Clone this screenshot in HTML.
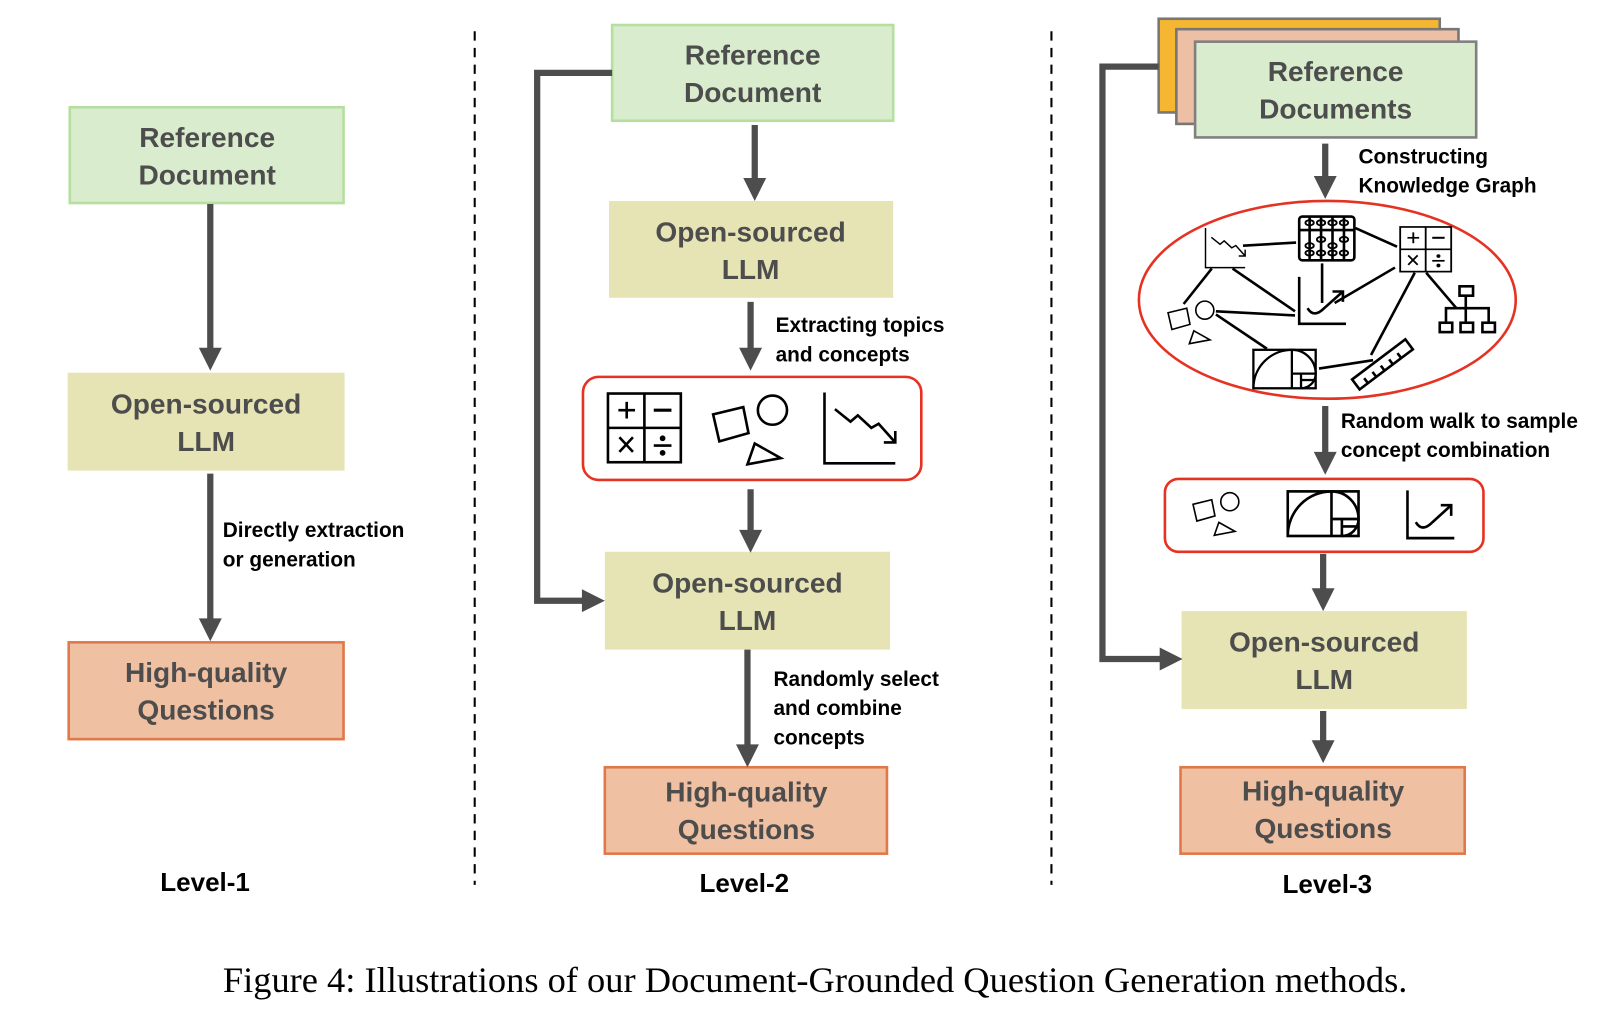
<!DOCTYPE html>
<html><head><meta charset="utf-8"><style>html,body{margin:0;padding:0;background:#fff}svg{display:block}</style></head>
<body>
<svg width="1624" height="1014" viewBox="0 0 1560 974" xmlns="http://www.w3.org/2000/svg" font-family="Liberation Sans, sans-serif">
<defs>
<g id="calc" fill="none" stroke="#000" stroke-width="2.5">
<rect x="0" y="0" width="70" height="66"/><line x1="35" y1="0" x2="35" y2="66"/><line x1="0" y1="33" x2="70" y2="33"/>
<line x1="10" y1="16" x2="26" y2="16"/><line x1="18" y1="8" x2="18" y2="24"/><line x1="44" y1="16" x2="61" y2="16" stroke-width="3"/>
<line x1="11" y1="42" x2="24" y2="56"/><line x1="24" y1="42" x2="11" y2="56"/><line x1="44" y1="50" x2="61" y2="50"/>
<circle cx="52.5" cy="43" r="1.5" fill="#000"/><circle cx="52.5" cy="57" r="1.5" fill="#000"/></g>
<g id="shapes" fill="none" stroke="#000" stroke-width="2.5">
<polygon points="0,20 29,13 34,38 6,46"/><circle cx="57" cy="16" r="14"/><polygon points="40,48 65,62 33,68"/></g>
<g id="down" fill="none" stroke="#000" stroke-width="2.5">
<polyline points="0,0 0,68 68,68"/><polyline points="10,16 25,28 32,22 45,34 52,30 68,48"/><polyline points="57,48 68,48 68,37"/></g>
<g id="curve" fill="none" stroke="#000" stroke-width="2.5">
<polyline points="0,0 0,45 45,45"/><path d="M8,30 Q14,40 24,30 L42,14"/><polyline points="32,14 42,14 42,24"/></g>
<g id="fib" fill="none" stroke="#000" stroke-width="2.5">
<rect x="0" y="0" width="68" height="42"/><line x1="42" y1="0" x2="42" y2="42"/><line x1="42" y1="26" x2="68" y2="26"/><line x1="52" y1="26" x2="52" y2="42"/><line x1="52" y1="33" x2="68" y2="33"/>
<path d="M0,42 A42,42 0 0 1 42,0 A26,26 0 0 1 68,26 A16,16 0 0 1 52,42"/></g>
</defs>

<line x1="456" y1="30" x2="456" y2="850" stroke="#000" stroke-width="2" stroke-dasharray="9,7"/>
<line x1="1010" y1="30" x2="1010" y2="850" stroke="#000" stroke-width="2" stroke-dasharray="9,7"/>

<g font-weight="bold" font-size="27" fill="#4d4d4d" text-anchor="middle">
<rect x="67" y="103" width="263" height="92" fill="#d9ecce" stroke="#b5df9e" stroke-width="2.5"/>
<text x="199" y="141">Reference</text><text x="199" y="177">Document</text>
<rect x="65" y="358" width="266" height="94" fill="#e6e4b4"/>
<text x="198" y="397">Open-sourced</text><text x="198" y="433">LLM</text>
<rect x="66" y="617" width="264" height="93" fill="#efc0a2" stroke="#e0784a" stroke-width="2.5"/>
<text x="198" y="655">High-quality</text><text x="198" y="691">Questions</text>

<rect x="588" y="24" width="270" height="92" fill="#d9ecce" stroke="#b5df9e" stroke-width="2.5"/>
<text x="723" y="62">Reference</text><text x="723" y="98">Document</text>
<rect x="585" y="193" width="273" height="93" fill="#e6e4b4"/>
<text x="721" y="232">Open-sourced</text><text x="721" y="268">LLM</text>
<rect x="581" y="530" width="274" height="94" fill="#e6e4b4"/>
<text x="718" y="569">Open-sourced</text><text x="718" y="605">LLM</text>
<rect x="581" y="737" width="271" height="83" fill="#efc0a2" stroke="#e0784a" stroke-width="2.5"/>
<text x="717" y="770">High-quality</text><text x="717" y="806">Questions</text>

<rect x="1113" y="18" width="270" height="90" fill="#f5b731" stroke="#777" stroke-width="2.5"/>
<rect x="1130" y="28" width="271" height="91" fill="#edbfa4" stroke="#777" stroke-width="2.5"/>
<rect x="1148" y="40" width="270" height="92" fill="#d9ecce" stroke="#808080" stroke-width="2.5"/>
<text x="1283" y="78">Reference</text><text x="1283" y="114">Documents</text>
<rect x="1135" y="587" width="274" height="94" fill="#e6e4b4"/>
<text x="1272" y="626">Open-sourced</text><text x="1272" y="662">LLM</text>
<rect x="1134" y="737" width="273" height="83" fill="#efc0a2" stroke="#e0784a" stroke-width="2.5"/>
<text x="1271" y="769">High-quality</text><text x="1271" y="805">Questions</text>
</g>

<g stroke="#4d4d4d" stroke-width="6" fill="none">
<line x1="202" y1="196" x2="202" y2="338"/>
<line x1="202" y1="455" x2="202" y2="598"/>
<line x1="725" y1="120" x2="725" y2="175"/>
<line x1="721" y1="290" x2="721" y2="338"/>
<line x1="721" y1="470" x2="721" y2="513"/>
<polyline points="588,70 516,70 516,577 563,577"/>
<line x1="718" y1="624" x2="718" y2="719"/>
<polyline points="1113,64 1059,64 1059,633 1118,633"/>
<line x1="1273" y1="138" x2="1273" y2="173"/>
<line x1="1273" y1="390" x2="1273" y2="438"/>
<line x1="1271" y1="532" x2="1271" y2="569"/>
<line x1="1271" y1="683" x2="1271" y2="715"/>
</g>
<g fill="#4d4d4d">
<polygon points="191,334 213,334 202,356"/>
<polygon points="191,594 213,594 202,616"/>
<polygon points="714,171 736,171 725,193"/>
<polygon points="710,334 732,334 721,356"/>
<polygon points="710,509 732,509 721,531"/>
<polygon points="559,566 559,588 581,577"/>
<polygon points="707,715 729,715 718,737"/>
<polygon points="1114,622 1114,644 1136,633"/>
<polygon points="1262,169 1284,169 1273,191"/>
<polygon points="1262,434 1284,434 1273,456"/>
<polygon points="1260,565 1282,565 1271,587"/>
<polygon points="1260,711 1282,711 1271,733"/>
</g>

<g font-weight="bold" font-size="20" fill="#000">
<text x="214" y="516">Directly extraction</text><text x="214" y="544">or generation</text>
<text x="745" y="319">Extracting topics</text><text x="745" y="347">and concepts</text>
<text x="743" y="659">Randomly select</text><text x="743" y="687">and combine</text><text x="743" y="715">concepts</text>
<text x="1305" y="157">Constructing</text><text x="1305" y="185">Knowledge Graph</text>
<text x="1288" y="411">Random walk to sample</text><text x="1288" y="439">concept combination</text>
</g>

<rect x="560" y="362" width="325" height="99" rx="15" fill="none" stroke="#e53222" stroke-width="2.5"/>
<use href="#calc" transform="translate(584,378)"/>
<use href="#shapes" transform="translate(685,378)"/>
<use href="#down" transform="translate(792,377)"/>

<ellipse cx="1275" cy="288" rx="181" ry="95" fill="none" stroke="#e53222" stroke-width="2.5"/>
<g stroke="#000" stroke-width="2.5" fill="none">
<line x1="1194" y1="236" x2="1245" y2="233"/>
<line x1="1302" y1="219" x2="1342" y2="237"/>
<line x1="1270" y1="253" x2="1270" y2="291"/>
<line x1="1282" y1="291" x2="1340" y2="257"/>
<line x1="1164" y1="258" x2="1137" y2="292"/>
<line x1="1184" y1="258" x2="1244" y2="299"/>
<line x1="1168" y1="299" x2="1244" y2="303"/>
<line x1="1168" y1="302" x2="1217" y2="335"/>
<line x1="1267" y1="354" x2="1319" y2="346"/>
<line x1="1359" y1="262" x2="1317" y2="341"/>
<line x1="1370" y1="262" x2="1399" y2="296"/>
<rect x="1248" y="208" width="53" height="42" rx="3"/>
<line x1="1248" y1="221" x2="1301" y2="221"/>
<line x1="1258" y1="208" x2="1258" y2="250"/><line x1="1269" y1="208" x2="1269" y2="250"/><line x1="1280" y1="208" x2="1280" y2="250"/><line x1="1291" y1="208" x2="1291" y2="250"/>
<g stroke-width="1.8"><ellipse cx="1258" cy="214" rx="4" ry="2.5"/><ellipse cx="1269" cy="214" rx="4" ry="2.5"/><ellipse cx="1280" cy="214" rx="4" ry="2.5"/><ellipse cx="1291" cy="214" rx="4" ry="2.5"/>
<ellipse cx="1258" cy="236" rx="4" ry="2.5"/><ellipse cx="1269" cy="230" rx="4" ry="2.5"/><ellipse cx="1280" cy="236" rx="4" ry="2.5"/><ellipse cx="1291" cy="230" rx="4" ry="2.5"/>
<ellipse cx="1258" cy="243" rx="4" ry="2.5"/><ellipse cx="1269" cy="243" rx="4" ry="2.5"/><ellipse cx="1280" cy="243" rx="4" ry="2.5"/><ellipse cx="1291" cy="243" rx="4" ry="2.5"/></g>
<rect x="1402" y="275" width="13" height="9"/>
<line x1="1408" y1="284" x2="1408" y2="310"/><polyline points="1389,310 1389,296 1430,296 1430,310"/>
<rect x="1383" y="310" width="12" height="9"/><rect x="1403" y="310" width="12" height="9"/><rect x="1424" y="310" width="12" height="9"/>
<g transform="translate(1328,350) rotate(-37)"><rect x="-32" y="-6" width="64" height="12"/>
<line x1="-22" y1="6" x2="-22" y2="0"/><line x1="-12" y1="6" x2="-12" y2="0"/><line x1="-2" y1="6" x2="-2" y2="0"/><line x1="8" y1="6" x2="8" y2="0"/><line x1="18" y1="6" x2="18" y2="0"/></g>
</g>
<use href="#down" transform="translate(1158,219) scale(0.56)"/>
<use href="#calc" transform="translate(1345,218) scale(0.7,0.65)"/>
<use href="#curve" transform="translate(1248,266)"/>
<use href="#shapes" transform="translate(1122,288) scale(0.62)"/>
<use href="#fib" transform="translate(1204,336) scale(0.88)"/>

<rect x="1119" y="460" width="306" height="70" rx="13" fill="none" stroke="#e53222" stroke-width="2.5"/>
<use href="#shapes" transform="translate(1146,472) scale(0.62)"/>
<use href="#fib" transform="translate(1237,472) scale(1,1.02)"/>
<use href="#curve" transform="translate(1352,471) scale(1,1.02)"/>

<g font-weight="bold" font-size="25" fill="#000" text-anchor="middle">
<text x="197" y="856">Level-1</text><text x="715" y="857">Level-2</text><text x="1275" y="858">Level-3</text>
</g>
<text x="783" y="953" text-anchor="middle" font-family="Liberation Serif, serif" font-size="35" fill="#000">Figure 4: Illustrations of our Document-Grounded Question Generation methods.</text>
</svg>
</body></html>
